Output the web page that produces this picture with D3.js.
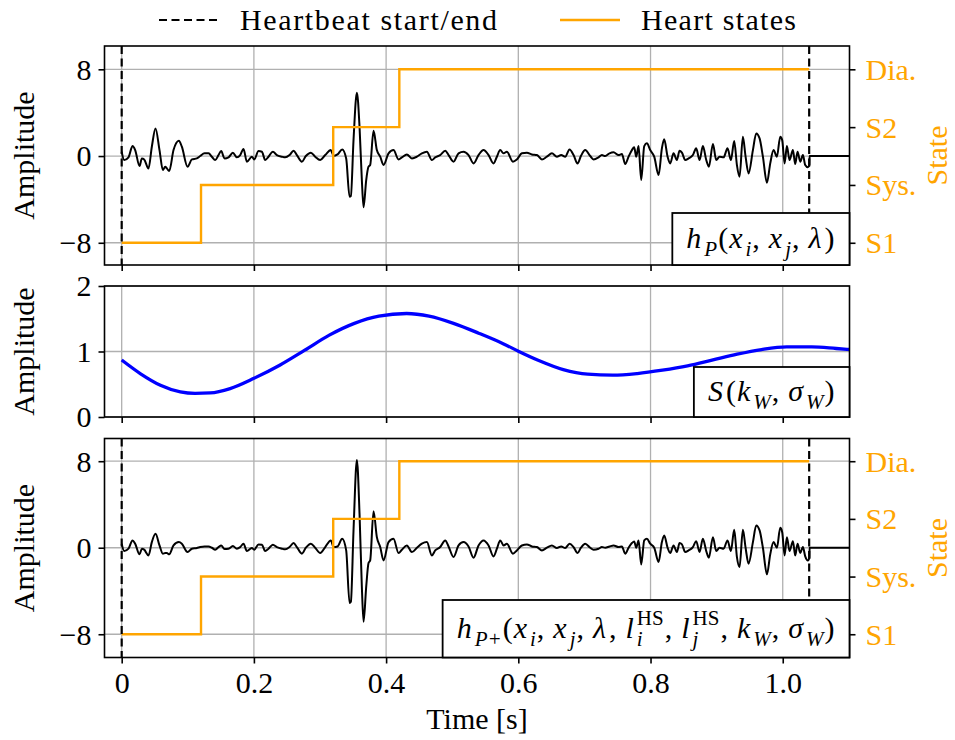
<!DOCTYPE html>
<html>
<head>
<meta charset="utf-8">
<script src="https://cdn.jsdelivr.net/npm/d3@7"></script>
<style>
  body { margin: 0; background: #fff; }
  svg text { font-family: "Liberation Serif", serif !important; }
</style>
</head>
<body>
<svg id="chart" width="955" height="740"></svg>
<script>
// ---- data ----
const stateNames = ["S1", "Sys.", "S2", "Dia."];
const stateValues = [-8, -8 / 3, 8 / 3, 8];
const stateChangeTimes = [0, 0.12, 0.32, 0.42, 1.04];
const beatBounds = [0, 1.04];
const timeTicks = [0, 0.2, 0.4, 0.6, 0.8, 1.0];
const ampTicks = [-8, 0, 8];
const weightTicks = [0, 1, 2];

const sigTime = [
  0.000, 0.0038, 0.0103, 0.0164, 0.0204, 0.027, 0.0305, 0.034, 0.0406, 0.0456,
  0.0512, 0.0572, 0.0623, 0.0658, 0.0683, 0.0719, 0.0784, 0.0865, 0.091, 0.0996,
  0.1062, 0.1137, 0.1188, 0.1253, 0.1314, 0.1364, 0.1415, 0.1465, 0.1505, 0.1556,
  0.1616, 0.1682, 0.1742, 0.1793, 0.1843, 0.1894, 0.1969, 0.2005, 0.207, 0.2121,
  0.2171, 0.2221, 0.2287, 0.2347, 0.2423, 0.2474, 0.2539, 0.26, 0.265, 0.2726,
  0.2786, 0.2862, 0.2927, 0.3003, 0.3079, 0.3164, 0.3205, 0.3265, 0.3336, 0.3396,
  0.3447, 0.3467, 0.3507, 0.3558, 0.3598, 0.3633, 0.3659, 0.3699, 0.3734, 0.3759,
  0.381, 0.386, 0.3911, 0.3961, 0.4037, 0.4112, 0.4188, 0.4239, 0.4314, 0.439,
  0.4466, 0.4541, 0.4617, 0.4692, 0.4743, 0.4818, 0.4894, 0.4945, 0.502, 0.5096,
  0.5171, 0.5247, 0.5323, 0.5398, 0.5474, 0.555, 0.5625, 0.5676, 0.5726, 0.5777,
  0.5827, 0.5918, 0.5978, 0.6054, 0.613, 0.6205, 0.6281, 0.6357, 0.6432, 0.6508,
  0.6583, 0.6649, 0.6709, 0.6775, 0.6836, 0.6896, 0.6947, 0.7012, 0.7088, 0.7138,
  0.7214, 0.7264, 0.7315, 0.738, 0.7441, 0.7516, 0.7567, 0.7617, 0.7668, 0.7718,
  0.7753, 0.7784, 0.7819, 0.7859, 0.7905, 0.7945, 0.7995, 0.8056, 0.8122, 0.8172,
  0.8207, 0.8258, 0.8298, 0.8348, 0.8399, 0.8439, 0.8475, 0.8525, 0.8576, 0.8641,
  0.8691, 0.8742, 0.8792, 0.8843, 0.8883, 0.8944, 0.8994, 0.9044, 0.9105, 0.9165,
  0.9216, 0.9266, 0.9307, 0.9347, 0.9397, 0.9438, 0.9483, 0.9549, 0.9599, 0.965,
  0.97, 0.9761, 0.9811, 0.9861, 0.9912, 0.9962, 0.9992, 1.0028, 1.0063, 1.0103,
  1.0154, 1.0189, 1.0224, 1.0265, 1.0305, 1.034, 1.0381, 1.0405, 1.0406, 1.2
];

// heartbeat h_P
const sigTop = [
  0.4, -0.37, -0.12, 0.92, 0.55, -0.92, -0.22, -0.31, -1.14, 0.86,
  2.55, 0.55, -1.29, -0.98, -1.14, -1.38, 0.55, 1.41, 0.86, -0.98,
  -0.31, -0.22, 0, 0.25, 0.25, -0.06, -0.37, 0.09, 0.46, -0.22,
  -0.12, 0.31, -0.12, 0.09, 0.65, -0.52, -0.06, -0.31, 0.46, 0.4,
  -0.37, -0.06, 0.4, 0.09, -0.06, -0.12, 0.09, 0.49, 0.09, -0.52,
  0, 0.31, -0.06, -0.37, 0.09, 0.55, 0, 0.15, 0.61, -0.22,
  -3.75, -3.69, 1.47, 5.84, 2.7, -2.21, -4.73, -2.21, -0.98, -0.83,
  2.33, 0.55, -0.06, -0.83, 0.25, 0.55, -0.31, -0.12, 0.15, -0.22,
  -0.06, 0.25, 0.4, -0.37, -0.12, 0.09, 0.49, 0.09, -0.52, 0.25,
  0.4, 0.09, -0.68, 0.09, 0.55, 0.09, -0.68, -0.06, 0.55, 0.25,
  0.4, -0.52, -0.31, 0.25, 0.31, 0.15, 0.09, -0.31, -0.06, 0.25,
  -0.06, 0.09, -0.06, 0.61, 0.09, -0.68, 0, 0.55, 0, -0.31,
  -0.12, 0.09, 0, 0.25, 0.34, 0.09, 0.18, -0.74, -0.06, 0.55,
  0.8, -0.06, 0.92, -2.21, 0.92, 1.17, 0.55, -0.06, -1.75, 0.71,
  1.54, -0.06, -0.68, 0.25, -0.37, 0.49, 0.31, -0.37, -0.22, 0.09,
  0.71, -0.37, 0.92, -0.37, -0.98, 1.11, -0.37, -0.06, -0.12, 0.71,
  -0.37, 1.38, -0.83, -1.9, 1.78, -0.06, -1.6, 0.55, 2.09, 1.63,
  -0.06, -2.46, -0.68, 0.55, -0.06, 1.78, 1.47, -0.68, 0.92, -0.37,
  0.55, -0.74, 0.4, -0.52, 0.09, -0.83, -1.04, -0.8, 0, 0
];

// weighted heartbeat h_P+
const sigBottom = [
  0.37, -0.31, -0.09, 0.68, 0.37, -0.61, -0.09, -0.18, -0.71, 0.52,
  1.29, 0.21, -0.55, -0.49, -0.49, -0.61, 0.21, 0.52, 0.37, -0.4,
  -0.09, -0.03, 0.06, 0.12, 0.12, 0, -0.18, 0.06, 0.21, -0.12,
  -0.09, 0.15, -0.09, 0.06, 0.37, -0.31, -0.03, -0.18, 0.31, 0.28,
  -0.31, -0.09, 0.28, 0.06, -0.09, -0.15, 0.06, 0.43, 0.06, -0.55,
  0, 0.37, 0, -0.49, 0.06, 0.68, 0.06, 0.12, 0.83, -0.25,
  -5.1, -5.0, 1.6, 8.11, 3.13, -3.6, -6.85, -3.6, -1.41, -1.17,
  3.38, 0.98, 0.06, -1.17, 0.52, 0.83, -0.49, -0.18, 0.21, -0.4,
  0, 0.37, 0.52, -0.71, -0.25, 0.06, 0.68, 0.12, -0.86, 0.21,
  0.52, 0.12, -0.92, 0.21, 0.68, 0.21, -0.8, -0.09, 0.68, 0.21,
  0.37, -0.55, -0.25, 0.21, 0.31, 0.12, 0.06, -0.25, 0, 0.21,
  -0.03, 0.12, -0.03, 0.37, 0.06, -0.49, 0, 0.37, 0, -0.18,
  -0.09, 0.06, 0, 0.12, 0.21, 0.06, 0.12, -0.55, 0, 0.43,
  0.58, 0, 0.68, -1.54, 0.68, 0.83, 0.37, 0, -1.32, 0.52,
  1.14, 0, -0.49, 0.21, -0.4, 0.43, 0.31, -0.4, -0.25, 0.06,
  0.61, -0.4, 0.83, -0.31, -0.92, 0.98, -0.31, 0, -0.09, 0.68,
  -0.31, 1.66, -0.86, -1.78, 1.66, 0, -1.47, 0.52, 2.06, 1.6,
  0, -2.46, -0.61, 0.52, 0, 1.84, 1.44, -0.71, 0.98, -0.31,
  0.61, -0.71, 0.37, -0.49, 0.06, -0.8, -1.17, -0.9, 0, 0
];

// weighting curve S(k_W, sigma_W)
const weightTime = [
  0, 0.0286, 0.0586, 0.0887, 0.111, 0.134, 0.164, 0.2, 0.239, 0.277,
  0.314, 0.352, 0.389, 0.431, 0.465, 0.502, 0.54, 0.577, 0.6, 0.63,
  0.668, 0.705, 0.743, 0.78, 0.818, 0.856, 0.893, 0.931, 0.968, 1.006,
  1.044, 1.081, 1.102
];
const weightValue = [
  0.87, 0.66, 0.485, 0.383, 0.36, 0.367, 0.434, 0.59, 0.79, 1.02,
  1.25, 1.43, 1.54, 1.58, 1.54, 1.43, 1.28, 1.12, 1.005, 0.867,
  0.724, 0.653, 0.638, 0.663, 0.714, 0.78, 0.867, 0.959, 1.03, 1.07,
  1.07, 1.046, 1.03
];

// ---- layout ----
const svg = d3.select("#chart");
const FONT = '"Liberation Serif", serif';
const FS = 30;
const orange = "#ffa500";
const left = 104.5, right = 849.5;

const x = d3.scaleLinear().domain([-0.026, 1.101]).range([left, right]);

const panels = [
  { top: 46, bottom: 265, domain: [-10.05, 10.15], ticks: ampTicks, kind: "beat", values: sigTop },
  { top: 286, bottom: 417, domain: [0, 2], ticks: weightTicks, kind: "weight" },
  { top: 438.5, bottom: 657.5, domain: [-10.15, 10.1], ticks: ampTicks, kind: "beat", values: sigBottom }
];

const fmtSigned = d => d < 0 ? "\u2212" + (-d) : String(d);

function styleText(sel, size) {
  sel.attr("font-family", null)
    .style("font-family", FONT)
    .style("font-size", (size || FS) + "px");
  return sel;
}

panels.forEach((p, idx) => {
  const y = d3.scaleLinear().domain(p.domain).range([p.bottom, p.top]);
  const g = svg.append("g");
  const clipId = "clip" + idx;
  svg.append("clipPath").attr("id", clipId)
    .append("rect").attr("x", left).attr("y", p.top)
    .attr("width", right - left).attr("height", p.bottom - p.top);

  // grid
  g.append("g").selectAll("line").data(timeTicks).join("line")
    .attr("x1", d => x(d)).attr("x2", d => x(d))
    .attr("y1", p.top).attr("y2", p.bottom)
    .attr("stroke", "#b0b0b0").attr("stroke-width", 1.3);
  g.append("g").selectAll("line").data(p.ticks).join("line")
    .attr("x1", left).attr("x2", right)
    .attr("y1", d => y(d)).attr("y2", d => y(d))
    .attr("stroke", "#b0b0b0").attr("stroke-width", 1.3);

  const plot = g.append("g").attr("clip-path", `url(#${clipId})`);

  if (p.kind === "beat") {
    const pts = sigTime.map((t, i) => [t, p.values[i]]);
    plot.append("path")
      .datum(pts)
      .attr("fill", "none").attr("stroke", "#000").attr("stroke-width", 2)
      .attr("stroke-linejoin", "round")
      .attr("d", d3.line().curve(d3.curveMonotoneX).x(d => x(d[0])).y(d => y(d[1])));

    // heart state steps
    const steps = [];
    stateValues.forEach((v, i) => {
      steps.push([stateChangeTimes[i], v]);
      steps.push([stateChangeTimes[i + 1], v]);
    });
    plot.append("path")
      .datum(steps)
      .attr("fill", "none").attr("stroke", orange).attr("stroke-width", 2.4)
      .attr("d", d3.line().x(d => x(d[0])).y(d => y(d[1])));

    plot.append("g").selectAll("line").data(beatBounds).join("line")
      .attr("x1", d => x(d)).attr("x2", d => x(d))
      .attr("y1", p.top).attr("y2", p.bottom)
      .attr("stroke", "#000").attr("stroke-width", 2.2)
      .attr("stroke-dasharray", "8,4.5");
  } else {
    const pts = weightTime.map((t, i) => [t, weightValue[i]]);
    plot.append("path")
      .datum(pts)
      .attr("fill", "none").attr("stroke", "#0000ff").attr("stroke-width", 3.3)
      .attr("d", d3.line().curve(d3.curveMonotoneX).x(d => x(d[0])).y(d => y(d[1])));
  }

  // frame
  g.append("rect")
    .attr("x", left).attr("y", p.top)
    .attr("width", right - left).attr("height", p.bottom - p.top)
    .attr("fill", "none").attr("stroke", "#000").attr("stroke-width", 1.6);

  // left axis
  const ax = g.append("g").attr("transform", `translate(${left},0)`)
    .call(d3.axisLeft(y).tickValues(p.ticks).tickSize(6).tickPadding(7).tickFormat(fmtSigned));
  ax.select(".domain").remove();
  ax.selectAll("line").attr("stroke-width", 1.6);
  styleText(ax.selectAll("text")).attr("dy", "0.33em");

  styleText(g.append("text"))
    .attr("transform", `translate(34,${(p.top + p.bottom) / 2}) rotate(-90)`)
    .attr("text-anchor", "middle")
    .text("Amplitude");

  // bottom ticks on every panel, labels only on the last
  const bx = g.append("g").attr("transform", `translate(0,${p.bottom})`)
    .call(d3.axisBottom(x).tickValues(timeTicks).tickSize(6).tickPadding(8)
      .tickFormat(d => d === 0 ? "0" : d3.format(".1f")(d)));
  bx.select(".domain").remove();
  bx.selectAll("line").attr("stroke-width", 1.6);
  styleText(bx.selectAll("text"));
  if (idx !== 2) bx.selectAll("text").remove();

  // right state axis
  if (p.kind === "beat") {
    const ry = g.append("g").attr("transform", `translate(${right},0)`)
      .call(d3.axisRight(y).tickValues(stateValues).tickSize(6).tickPadding(10)
        .tickFormat((d, i) => stateNames[i]));
    ry.select(".domain").remove();
    ry.selectAll("line").attr("stroke-width", 1.6);
    styleText(ry.selectAll("text")).attr("fill", orange).attr("dy", "0.33em");

    styleText(g.append("text"))
      .attr("transform", `translate(947,${(p.top + p.bottom) / 2}) rotate(-90)`)
      .attr("text-anchor", "middle").attr("fill", orange)
      .text("State");
  }
});

// ---- math labels in boxes ----
// part: [text, italic, shift ("", "sub", "sup"), stackOnPrevious, extraSpaceAfter]
function mathBox(parts, boxTop, boxBottom) {
  const g = svg.append("g");
  const rect = g.append("rect").attr("fill", "#fff").attr("stroke", "#000").attr("stroke-width", 1.8);
  const tg = g.append("g");
  const base = (boxTop + boxBottom) / 2 + FS * 0.3;
  let cx = 0, prevStart = 0, prevW = 0;
  parts.forEach(([txt, it, shift, stack, space]) => {
    const size = shift ? FS * 0.7 : FS;
    const dy = shift === "sub" ? FS * 0.26 : shift === "sup" ? -FS * 0.42 : 0;
    const startX = stack ? prevStart : cx;
    const t = styleText(tg.append("text"), size)
      .attr("x", startX).attr("y", base + dy)
      .style("font-style", it ? "italic" : "normal")
      .text(txt);
    const w = t.node().getComputedTextLength();
    if (stack) {
      cx = prevStart + Math.max(prevW, w);
    } else {
      prevStart = startX; prevW = w;
      cx = startX + w;
    }
    cx += (space || 0) + (it && !shift ? 3 : 1);
  });
  const pad = 14;
  const width = cx + pad * 2;
  const bx = right - width;
  tg.attr("transform", `translate(${bx + pad},0)`);
  rect.attr("x", bx).attr("y", boxTop).attr("width", width).attr("height", boxBottom - boxTop);
}

const thin = 8;
mathBox([
  ["h", true], ["P", true, "sub"], ["(", false], ["x", true], ["i", true, "sub"],
  [",", false, "", false, thin], ["x", true], ["j", true, "sub"], [",", false, "", false, thin],
  ["\u03bb", true], [")", false]
], 213, 265);

mathBox([
  ["S", true], ["(", false], ["k", true], ["W", true, "sub"], [",", false, "", false, thin],
  ["\u03c3", true], ["W", true, "sub"], [")", false]
], 367, 417);

mathBox([
  ["h", true], ["P+", true, "sub"], ["(", false], ["x", true], ["i", true, "sub"],
  [",", false, "", false, thin], ["x", true], ["j", true, "sub"], [",", false, "", false, thin],
  ["\u03bb", true], [",", false, "", false, thin],
  ["l", true], ["HS", false, "sup"], ["i", true, "sub", true], [",", false, "", false, thin],
  ["l", true], ["HS", false, "sup"], ["j", true, "sub", true], [",", false, "", false, thin],
  ["k", true], ["W", true, "sub"], [",", false, "", false, thin],
  ["\u03c3", true], ["W", true, "sub"], [")", false]
], 600, 657.5);

// ---- x label ----
styleText(svg.append("text"))
  .attr("x", (left + right) / 2).attr("y", 729)
  .attr("text-anchor", "middle")
  .text("Time [s]");

// ---- legend ----
const legend = svg.append("g");
legend.append("line")
  .attr("x1", 159).attr("x2", 218).attr("y1", 20).attr("y2", 20)
  .attr("stroke", "#000").attr("stroke-width", 2.2).attr("stroke-dasharray", "8,4.5");
styleText(legend.append("text")).attr("x", 240).attr("y", 30)
  .attr("textLength", 257).attr("lengthAdjust", "spacing")
  .text("Heartbeat start/end");
legend.append("line")
  .attr("x1", 560).attr("x2", 620).attr("y1", 20).attr("y2", 20)
  .attr("stroke", orange).attr("stroke-width", 2.4);
styleText(legend.append("text")).attr("x", 641).attr("y", 30)
  .attr("textLength", 155).attr("lengthAdjust", "spacing")
  .text("Heart states");
</script>
</body>
</html>
